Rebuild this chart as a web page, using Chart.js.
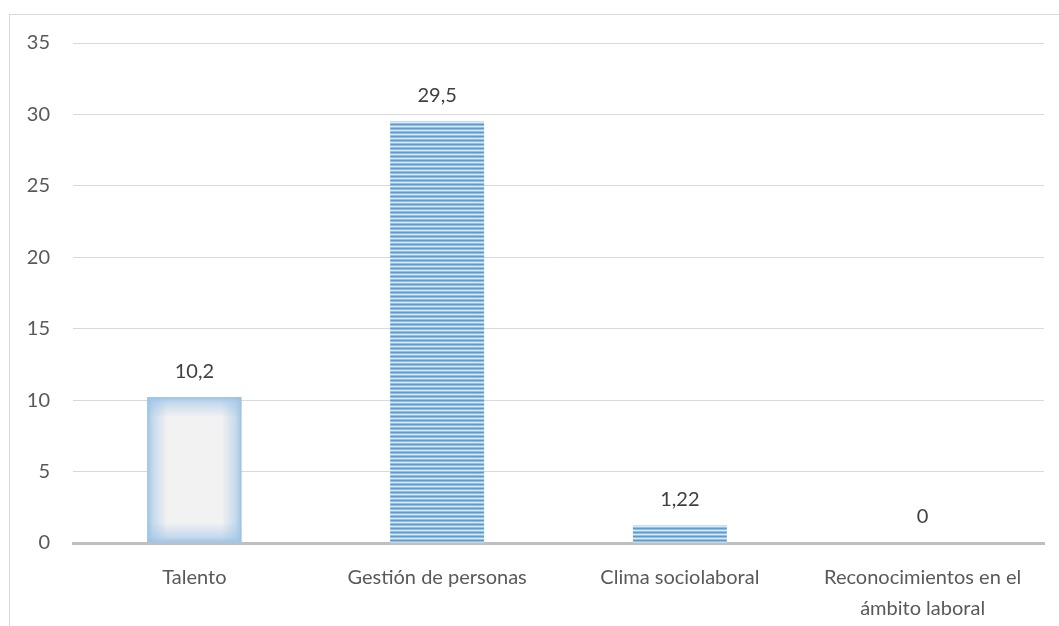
<!DOCTYPE html>
<html>
<head>
<meta charset="utf-8">
<script src="https://cdn.jsdelivr.net/npm/chart.js@4"></script>
<style>
  html, body { margin: 0; padding: 0; background: #fff; overflow: hidden; }
  #wrap { position: relative; width: 1059px; height: 626px; }
  #frame { position: absolute; left: 9px; top: 14px; width: 1100px; height: 700px;
           border-left: 1px solid #d9d9d9; border-top: 1px solid #d9d9d9; }
  canvas { position: absolute; left: 0; top: 0; }
</style>
</head>
<body>
<div id="wrap">
  <div id="frame"></div>
  <canvas id="myChart" width="1059" height="626"></canvas>
</div>
<script>
// datos del gráfico
let categorias = ['Talento', 'Gestión de personas', 'Clima sociolaboral', ['Reconocimientos en el', 'ámbito laboral']];
let valores = [10.2, 29.5, 1.22, 0];
let etiquetas = ['10,2', '29,5', '1,22', '0'];
let ejeMax = 35;
let ejePaso = 5;

// patrón de rayas horizontales
function crearRayas(){
    let c = document.createElement('canvas');
    c.width = 4; c.height = 4;
    let g = c.getContext('2d');
    let colores = ['#5b9bd5', '#94bee4', '#dbe9f7', '#94bee4'];
    for(let i=0; i<4; i++){
        g.fillStyle = colores[i];
        g.fillRect(0, i, 4, 1);
    }
    return g.createPattern(c, 'repeat');
}

let ctx = document.getElementById('myChart').getContext('2d');
let rayas = crearRayas();

function borde(c, x0, y0, x1, y1){
    let g = c.createLinearGradient(x0, y0, x1, y1);
    g.addColorStop(0, 'rgba(157,195,230,0.95)');
    g.addColorStop(0.3, 'rgba(157,195,230,0.5)');
    g.addColorStop(1, 'rgba(157,195,230,0)');
    return g;
}

// brillo azul en los bordes de la primera barra
let brillo = {
    id: 'brillo',
    afterDatasetsDraw(chart){
        let bar = chart.getDatasetMeta(0).data[0];
        let c = chart.ctx;
        let l = bar.x - bar.width/2, r = bar.x + bar.width/2, t = bar.y, b = bar.base;
        let d = 20;
        c.save();
        c.fillStyle = borde(c, l, 0, l+d, 0); c.fillRect(l, t, d, b-t);
        c.fillStyle = borde(c, r, 0, r-d, 0); c.fillRect(r-d, t, d, b-t);
        c.fillStyle = borde(c, 0, t, 0, t+d); c.fillRect(l, t, r-l, d);
        c.fillStyle = borde(c, 0, b, 0, b-d); c.fillRect(l, b-d, r-l, d);
        c.strokeStyle = '#9dc3e6'; c.lineWidth = 1;
        c.strokeRect(l+0.5, t+0.5, r-l-1, b-t-1);
        c.restore();

        // etiquetas de datos
        c.save();
        c.fillStyle = '#404040';
        c.font = '20px Lato';
        c.textAlign = 'center';
        c.textBaseline = 'middle';
        chart.getDatasetMeta(0).data.forEach(function(el, i){
            c.fillText(etiquetas[i], el.x, el.y - 26);
        });
        c.restore();
    }
};

let chart = new Chart(ctx, {
    type: 'bar',
    data: {
        labels: categorias,
        datasets: [{
            data: valores,
            backgroundColor: function(cx){ return cx.dataIndex === 0 ? '#f2f2f2' : rayas; },
            borderWidth: 0,
            barPercentage: 0.387,
            categoryPercentage: 1
        }]
    },
    options: {
        responsive: false,
        animation: false,
        layout: { padding: { left: 0, right: 15, top: 43, bottom: 0 } },
        plugins: { legend: { display: false }, tooltip: { enabled: false } },
        scales: {
            y: {
                min: 0, max: ejeMax,
                ticks: { stepSize: ejePaso, color: '#595959', font: { family: 'Lato', size: 20 }, padding: 23 },
                grid: { color: '#d9d9d9', drawTicks: false },
                border: { display: false },
                afterFit(s){ s.width = 73; }
            },
            x: {
                ticks: { color: '#595959', font: { family: 'Lato', size: 20, lineHeight: 1.55 }, padding: 19, maxRotation: 0 },
                grid: { display: false, drawTicks: false },
                border: { color: '#bfbfbf', width: 3 },
                afterFit(s){ s.height = 83; }
            }
        }
    },
    plugins: [brillo]
});
</script>
</body>
</html>
